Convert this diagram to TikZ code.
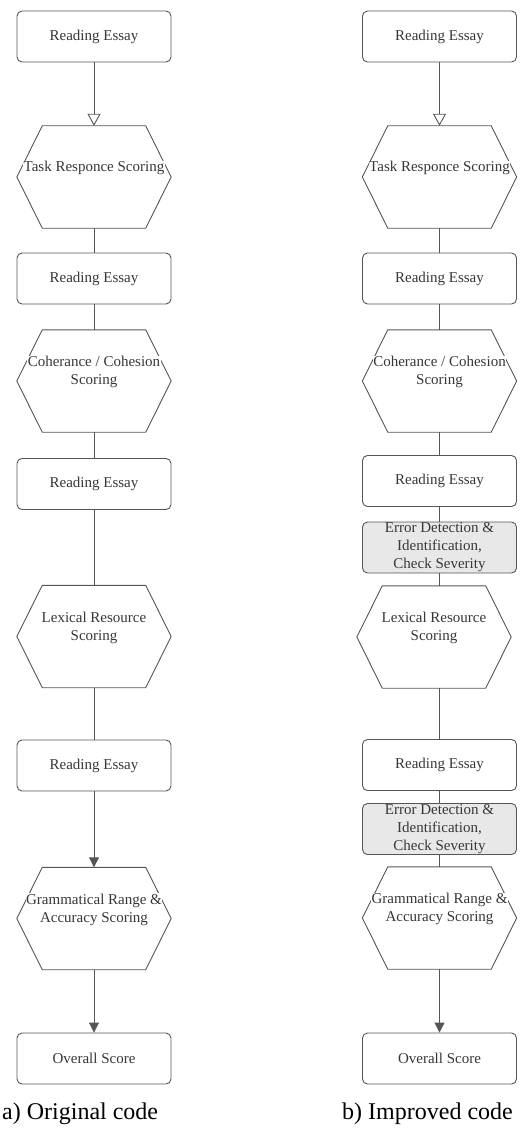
\documentclass[tikz,border=0pt]{standalone}
\usepackage{fontspec}
\setmainfont{Liberation Serif}
\newfontfamily\tnr{Liberation Serif}
\usetikzlibrary{arrows.meta}
\definecolor{linec}{RGB}{85,85,85}
\definecolor{txtc}{RGB}{55,55,55}
\definecolor{errfill}{RGB}{232,232,232}
\tikzset{
  rebox/.style={draw=linec, line width=0.9pt, rounded corners=5pt, minimum width=154pt, minimum height=51pt, inner sep=0pt, align=center, font=\tnr\fontsize{15}{18}\selectfont, text=txtc, fill=white},
  errbox/.style={rebox, fill=errfill},
  hexbox/.style={minimum width=154pt, minimum height=102pt, inner sep=0pt},
  hexline/.style={draw=linec, line width=0.9pt},
  hextext/.style={fill=white, inner sep=0.5pt, align=center, font=\tnr\fontsize{15}{18}\selectfont, text=txtc},
  conn/.style={draw=linec, line width=0.9pt},
  openarr/.style={conn, -{Triangle[open, length=12pt, width=13pt]}},
  fillarr/.style={conn, -{Triangle[length=10pt, width=10pt]}},
  captxt/.style={font=\tnr\fontsize{24}{28}\selectfont, text=black, inner sep=0pt}
}
\begin{document}
\begin{tikzpicture}[x=1pt,y=-1pt]
\useasboundingbox (0,0) rectangle (529,1129);
% ---------- left column ----------
\node[rebox] (a1) at (94,36.5) {Reading Essay};
\node[hexbox] (ah1) at (94,177) {};
\node[rebox] (a2) at (94,278.5) {Reading Essay};
\node[hexbox] (ah2) at (94,381) {};
\node[rebox] (a3) at (94,484) {Reading Essay};
\node[hexbox] (ah3) at (94,636.5) {};
\node[rebox] (a4) at (94,765.5) {Reading Essay};
\node[hexbox] (ah4) at (94,918.5) {};
\node[rebox] (a5) at (94,1058.5) {Overall Score};
% ---------- right column ----------
\node[rebox] (b1) at (439.5,36.5) {Reading Essay};
\node[hexbox] (bh1) at (439.5,177) {};
\node[rebox] (b2) at (439.5,278.5) {Reading Essay};
\node[hexbox] (bh2) at (439.5,381) {};
\node[rebox] (b3) at (439.5,481) {Reading Essay};
\node[errbox] (be1) at (439.5,547.5) {Error Detection \&\\Identification,\\Check Severity};
\node[hexbox] (bh3) at (434,637) {};
\node[rebox] (b4) at (439.5,765) {Reading Essay};
\node[errbox] (be2) at (439.5,829) {Error Detection \&\\Identification,\\Check Severity};
\node[hexbox] (bh4) at (439.5,918) {};
\node[rebox] (b5) at (439.5,1058.5) {Overall Score};
% ---------- hexagon outlines ----------
\foreach \h in {ah1,ah2,ah3,ah4,bh1,bh2,bh3,bh4}{
  \draw[hexline] ([xshift=25.5pt]\h.north west) -- ([xshift=-25.5pt]\h.north east) -- (\h.east)
    -- ([xshift=-25.5pt]\h.south east) -- ([xshift=25.5pt]\h.south west) -- (\h.west) -- cycle;
}
% ---------- hexagon texts ----------
\node[hextext] (ah1t) at ([yshift=9pt]ah1.center) {Task Responce Scoring};
\node[hextext] (ah2t) at ([yshift=9pt]ah2.center) {Coherance / Cohesion\\Scoring};
\node[hextext] (ah3t) at ([yshift=9pt]ah3.center) {Lexical Resource\\Scoring};
\node[hextext] (ah4t) at ([yshift=9pt]ah4.center) {Grammatical Range \&\\Accuracy Scoring};
\node[hextext] (bh1t) at ([yshift=9pt]bh1.center) {Task Responce Scoring};
\node[hextext] (bh2t) at ([yshift=9pt]bh2.center) {Coherance / Cohesion\\Scoring};
\node[hextext] (bh3t) at ([yshift=9pt]bh3.center) {Lexical Resource\\Scoring};
\node[hextext] (bh4t) at ([yshift=9pt]bh4.center) {Grammatical Range \&\\Accuracy Scoring};
% ---------- connectors left ----------
\draw[openarr] (a1.south) -- (ah1.north);
\draw[conn] (ah1.south) -- (a2.north);
\draw[conn] (a2.south) -- (ah2.north);
\draw[conn] (ah2.south) -- (a3.north);
\draw[conn] (a3.south) -- (ah3.north);
\draw[conn] (ah3.south) -- (a4.north);
\draw[fillarr] (a4.south) -- (ah4.north);
\draw[fillarr] (ah4.south) -- (a5.north);
% ---------- connectors right ----------
\draw[openarr] (b1.south) -- (bh1.north);
\draw[conn] (bh1.south) -- (b2.north);
\draw[conn] (b2.south) -- (bh2.north);
\draw[conn] (bh2.south) -- (b3.north);
\draw[conn] (b3.south) -- (be1.north);
\draw[conn] (be1.south) -- (be1.south |- bh3.north);
\draw[conn] (bh3.south -| b4.north) -- (b4.north);
\draw[conn] (b4.south) -- (be2.north);
\draw[conn] (be2.south) -- (bh4.north);
\draw[fillarr] (bh4.south) -- (b5.north);
% ---------- captions ----------
\node[captxt, anchor=west] (capa) at (2,1114) {a) Original code};
\node[captxt, anchor=west] (capb) at (342,1114) {b) Improved code};
\end{tikzpicture}
\end{document}
